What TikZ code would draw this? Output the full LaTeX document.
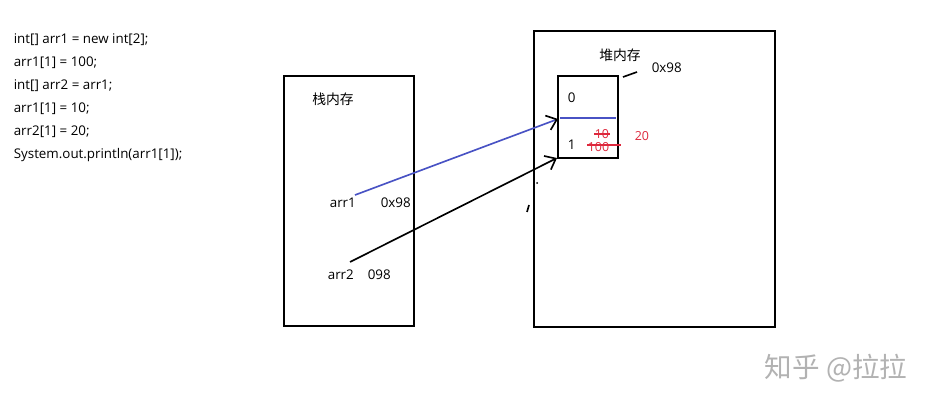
\documentclass[tikz,border=0pt]{standalone}
\usepackage{fontspec}
\setmainfont{Open Sans}
\newfontfamily\cjk{Noto Sans CJK SC}
\usetikzlibrary{arrows.meta}
\definecolor{ptrblue}{RGB}{72,82,196}
\definecolor{valred}{RGB}{222,40,60}

\begin{document}
\begin{tikzpicture}[x=0.03cm,y=-0.03cm,line width=1.4pt,
  >={Straight Barb[length=8pt,width=13pt,color=black]},
  font=\fontsize{11.4}{13}\selectfont]
\tikzset{txt/.style={inner sep=0pt,anchor=west}, cn/.style={inner sep=0pt,font=\cjk\fontsize{11.8}{13}\selectfont},
  val/.style={inner sep=0pt,anchor=west,text=valred,font=\fontsize{10.6}{12}\selectfont}}
\useasboundingbox[fill=white] (0,0) rectangle (933,404);
% source code
\foreach \t [count=\i] in {{int[] arr1 = new int[2];},{arr1[1] = 100;},{int[] arr2 = arr1;},{arr1[1] = 10;},{arr2[1] = 20;},{System.out.println(arr1[1]);}}
  \node[txt] (code\i) at (13,17+23*\i) {\t};
% stack
\draw (284,76) rectangle (414,326);
\node[cn] (stacklbl) at (333,99) {栈内存};
\node[txt] (arr1) at (329,203) {arr1};
\node[txt] (addr1) at (380,203) {0x98};
\node[txt] (arr2) at (327,275) {arr2};
\node[txt] (addr2) at (367,275) {098};
% heap
\draw (534,31) rectangle (775,327);
\node[cn] (heaplbl) at (620,55) {堆内存};
\node[txt] (haddr) at (651,68) {0x98};
\draw (623,77) -- (637,72);
\draw (558,76) rectangle (618,158);
\node[txt] (idx0) at (567,98) {0};
\node[txt] (idx1) at (567,145) {1};
\coordinate (slot1) at (558,119);
\coordinate (arrbot) at (557,158);
\draw[ptrblue] (560,118) -- (616,118);
% values
\node[val] (v10) at (594,134) {10};
\node[val] (v100) at (587,147) {100};
\node[val] (v20) at (634,136) {20};
\draw[valred,line width=1pt] (v10.west) -- (v10.east);
\draw[valred,line width=1pt] (587,145) -- (621,145);
% references
\coordinate (p1) at (355,195);
\coordinate (p2) at (350,262);
\draw[ptrblue,->] (p1) -- (slot1);
\draw[->] (p2) -- (arrbot);
\fill (537,183) circle (1);
\draw (527,212) -- (529,205);
% watermark
\node[inner sep=0pt,text=black!30,font=\cjk\fontsize{23.5}{25}\selectfont] (wm) at (836,368) {知乎 @拉拉};
\end{tikzpicture}
\end{document}
